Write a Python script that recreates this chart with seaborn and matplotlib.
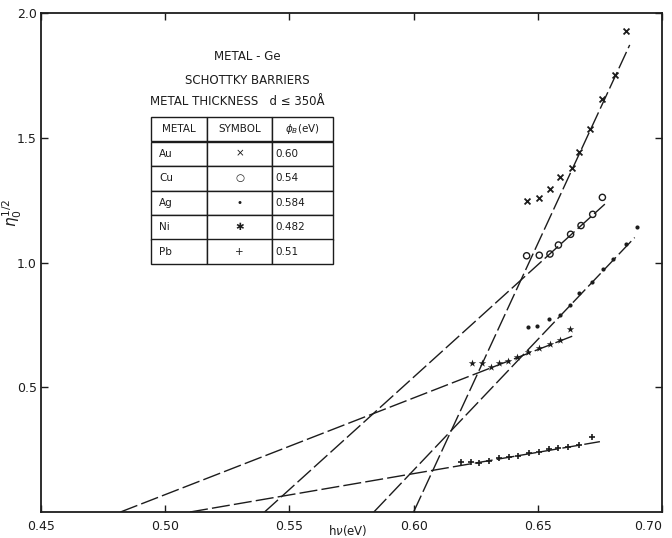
import matplotlib
matplotlib.use("Agg")
import matplotlib.pyplot as plt
import numpy as np
import pandas as pd
import seaborn as sns

# ---------------- data ----------------
metals = ["Au", "Cu", "Ag", "Ni", "Pb"]
symbols = ["×", "○", "•", "✱", "+"]
phi_labels = ["0.60", "0.54", "0.584", "0.482", "0.51"]
phi_b = [0.60, 0.54, 0.584, 0.482, 0.51]          # x-intercepts of fit lines
fit_end_x = [0.687, 0.677, 0.689, 0.665, 0.675]
fit_end_y = [1.872, 1.234, 1.10, 0.709, 0.282]

au_x = [0.6458, 0.6504, 0.6550, 0.6589, 0.6637, 0.6667, 0.6710, 0.6760, 0.6810, 0.6855]
au_y = [1.246, 1.259, 1.296, 1.344, 1.378, 1.444, 1.535, 1.654, 1.750, 1.929]

cu_x = [0.6455, 0.6506, 0.6549, 0.6583, 0.6632, 0.6674, 0.6721, 0.6760]
cu_y = [1.027, 1.029, 1.034, 1.070, 1.113, 1.148, 1.193, 1.261]

ag_x = [0.6462, 0.6498, 0.6546, 0.6589, 0.6630, 0.6667, 0.6717, 0.6764, 0.6802, 0.6855, 0.6898]
ag_y = [0.743, 0.747, 0.772, 0.790, 0.830, 0.877, 0.923, 0.973, 1.013, 1.073, 1.143]

ni_x = [0.6234, 0.6274, 0.6310, 0.6345, 0.6379, 0.6418, 0.6459, 0.6506, 0.6549, 0.6589, 0.6630]
ni_y = [0.598, 0.596, 0.582, 0.598, 0.604, 0.623, 0.641, 0.657, 0.674, 0.689, 0.732]

pb_x = [0.6190, 0.6230, 0.6265, 0.6305, 0.6345, 0.6385, 0.6422, 0.6465, 0.6506,
        0.6546, 0.6583, 0.6623, 0.6667, 0.6717]
pb_y = [0.202, 0.202, 0.198, 0.203, 0.215, 0.222, 0.224, 0.235, 0.240,
        0.251, 0.255, 0.261, 0.267, 0.299]

x_ticks = [0.45, 0.50, 0.55, 0.60, 0.65, 0.70]
x_tick_labels = ["0.45", "0.50", "0.55", "0.60", "0.65", "0.70"]
y_ticks = [0.5, 1.0, 1.5, 2.0]
y_tick_labels = ["0.5", "1.0", "1.5", "2.0"]

title_lines = ["METAL - Ge", "SCHOTTKY BARRIERS", "METAL THICKNESS   d ≤ 350Å"]
table_header = ["METAL", "SYMBOL", r"$\phi_B$(eV)"]

# ---------------- style ----------------
sns.set_style("ticks")
plt.rcParams["font.family"] = ["DejaVu Sans"]
INK = "#1c1c1c"

fig = plt.figure(figsize=(6.72, 5.38), dpi=100)
ax = fig.add_axes([41 / 672, 26 / 538, 621 / 672, 499 / 538])

series = {
    "Au": (au_x, au_y, dict(marker="x", s=18, color=INK, linewidth=1.3)),
    "Cu": (cu_x, cu_y, dict(marker="o", s=20, facecolor="none", edgecolor=INK, linewidth=1.0)),
    "Ag": (ag_x, ag_y, dict(marker="o", s=9, color=INK, linewidth=0)),
    "Ni": (ni_x, ni_y, dict(marker="*", s=32, color=INK, linewidth=0)),
    "Pb": (pb_x, pb_y, dict(marker="+", s=22, color=INK, linewidth=1.2)),
}

# fitted (extrapolated) lines
for m, x0, ex, ey in zip(metals, phi_b, fit_end_x, fit_end_y):
    line_df = pd.DataFrame({"hv": [x0, ex], "eta": [0.0, ey]})
    sns.lineplot(data=line_df, x="hv", y="eta", ax=ax, color=INK, linewidth=1.0,
                 linestyle=(0, (13, 3)), errorbar=None)

# data points
for m in metals:
    xs, ys, kw = series[m]
    df = pd.DataFrame({"hv": xs, "eta": ys})
    sns.scatterplot(data=df, x="hv", y="eta", ax=ax, zorder=3, **kw)

ax.set_xlim(0.45, 0.70)
ax.set_ylim(0.0, 2.0)
ax.set_xticks(x_ticks)
ax.set_xticklabels(x_tick_labels)
ax.set_yticks(y_ticks)
ax.set_yticklabels(y_tick_labels)
ax.tick_params(direction="in", length=5, width=1.0, colors=INK, labelsize=9,
               top=True, right=True, pad=3)
ax.tick_params(axis="x", pad=6)
xlabels = ax.get_xticklabels()
xlabels[-1].set_ha("right")
for sp in ax.spines.values():
    sp.set_linewidth(1.3)
    sp.set_color(INK)

ax.set_xlabel("")
ax.set_ylabel(r"$\eta_0^{1/2}$", fontsize=11, color=INK)
ax.yaxis.set_label_coords(-0.028, 0.60)
fig.text(348 / 672, 7 / 538, r"h$\nu$(eV)", ha="center", va="center", fontsize=8.5, color=INK)

# inset title lines
ty = [0.912, 0.864, 0.822]
tx = [0.332, 0.333, 0.316]
for t, x, y in zip(title_lines, tx, ty):
    ax.text(x, y, t, transform=ax.transAxes, ha="center", va="center", fontsize=8.5, color=INK)

# inset table
cell_text = [[m, s, p] for m, s, p in zip(metals, symbols, phi_labels)]
tbl = ax.table(cellText=cell_text, colLabels=table_header,
               colWidths=[56, 65, 60.5], cellLoc="left",
               bbox=[(151 - 41) / 621, (512 - 264) / 499, 181.5 / 621, 147 / 499])
tbl.auto_set_font_size(False)
tbl.set_fontsize(7.5)
for (r, c), cell in tbl.get_celld().items():
    cell.set_edgecolor(INK)
    cell.set_linewidth(1.0)
    cell.set_facecolor("white")
    cell.get_text().set_color(INK)
    if c == 1:
        cell.set_text_props(ha="center")
    if r == 0:
        cell.PAD = 0.04
    elif c == 0:
        cell.PAD = 0.15
    elif c == 2:
        cell.PAD = 0.05

fig.savefig("out.png", dpi=100, facecolor="white")
